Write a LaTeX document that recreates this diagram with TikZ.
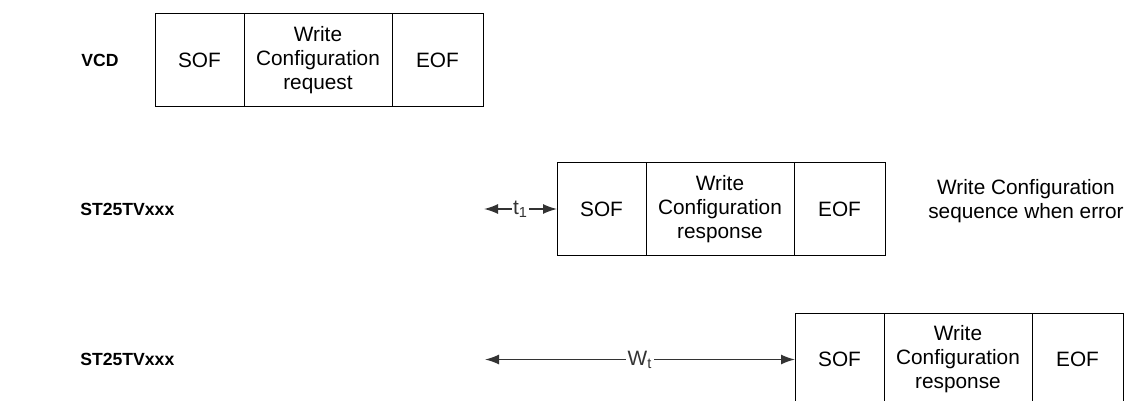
\documentclass[tikz,border=0pt]{standalone}
\usepackage{fontspec}
\setmainfont{Liberation Sans}
\usetikzlibrary{arrows.meta,positioning}
\definecolor{lineG}{HTML}{333333}
\newcommand{\fs}{\fontsize{10.4}{12}\selectfont}
\tikzset{
  field/.style={rectangle, draw=black, line width=0.5pt, minimum height=46.5pt,
                minimum width=#1, inner sep=0pt, outer sep=0pt, align=center, font=\fs},
  lane/.style={anchor=west, inner sep=0pt, font=\fontsize{8.8}{10}\selectfont\bfseries},
  gap/.style={{Latex[length=7pt,width=5pt]}-{Latex[length=7pt,width=5pt]},
              line width=0.75pt, draw=lineG},
  gaplbl/.style={fill=white, inner sep=0.6pt, font=\fs, text=lineG},
}

\begin{document}
\begin{tikzpicture}[x=0.5pt, y=-0.5pt]
\clip (0,0) rectangle (1125,401);
% VCD request
\node[lane] (vcd) at (81,60) {VCD};
\node[field=44.5pt, anchor=west] (reqsof) at (155,60) {SOF};
\node[field=74pt, right=0pt of reqsof] (reqcmd) {Write\\Configuration\\request};
\node[field=45.5pt, right=0pt of reqcmd] (reqeof) {EOF};
% first response, after t1
\node[lane] (tag1) at (80,209) {ST25TVxxx};
\node[field=44.5pt, anchor=west] (rspasof) at (557,209) {SOF};
\node[field=74pt, right=0pt of rspasof] (rspacmd) {Write\\Configuration\\response};
\node[field=45.5pt, right=0pt of rspacmd] (rspaeof) {EOF};
\coordinate (t1start) at (484,209);
\draw[gap] (t1start) -- (rspasof.west) node[midway, gaplbl] (t1lbl) {t\textsubscript{1}};
\node[align=center, font=\fs] (errnote) at (1026,201) {Write Configuration\\sequence when error};
% second response, after Wt
\node[lane] (tag2) at (80,359.5) {ST25TVxxx};
\node[field=44.5pt, anchor=west] (rspbsof) at (795,359.5) {SOF};
\node[field=74pt, right=0pt of rspbsof] (rspbcmd) {Write\\Configuration\\response};
\node[field=45.5pt, right=0pt of rspbcmd] (rspbeof) {EOF};
\coordinate (wtstart) at (485,359.5);
\draw[gap] (wtstart) -- (rspbsof.west) node[midway, gaplbl] (wtlbl) {W\textsubscript{t}};
\end{tikzpicture}
\end{document}
